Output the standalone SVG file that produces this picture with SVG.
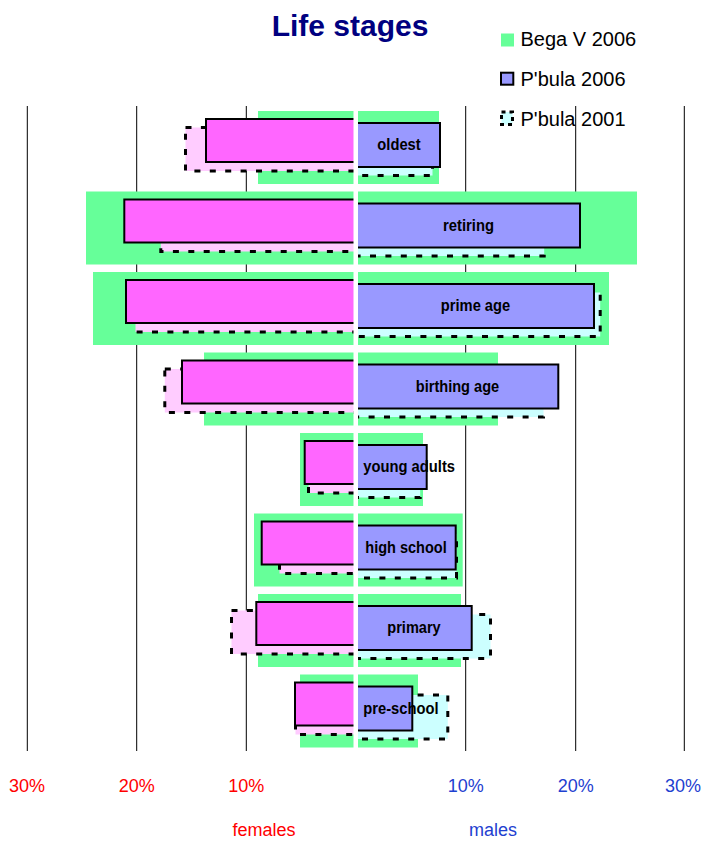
<svg xmlns="http://www.w3.org/2000/svg" width="701" height="841" viewBox="0 0 701 841">
<style>
text{font-family:"Liberation Sans",Arial,sans-serif}
.grid{stroke:#000;stroke-width:1}
.bega{fill:#66FF99}
.f01{fill:#FFCCFF;stroke:#000;stroke-width:3;stroke-dasharray:6 9.4}
.m01{fill:#CCFFFF;stroke:#000;stroke-width:3;stroke-dasharray:6 9.4}
.f06{fill:#FF66FF;stroke:#000;stroke-width:2}
.m06{fill:#9999FF;stroke:#000;stroke-width:2}
.lbl{font-size:17px;font-weight:bold;fill:#000;text-anchor:middle}
.lbls{font-size:17px;font-weight:bold;fill:#000;text-anchor:start}
.tf{font-size:18px;fill:#FF0000;text-anchor:middle}
.tm{font-size:18px;fill:#1E40D0;text-anchor:middle}
.leg{font-size:20px;fill:#000}
</style>
<rect width="701" height="841" fill="#fff"/>
<text x="350" y="36" style="font-size:30px;font-weight:bold;fill:#000080" text-anchor="middle">Life stages</text>
<g id="legend">
<rect class="bega" x="501" y="33.5" width="13" height="13"/>
<text class="leg" x="520.5" y="46">Bega V 2006</text>
<rect class="m06" x="501" y="72.7" width="12.3" height="12"/>
<text class="leg" x="520.5" y="85.5">P'bula 2006</text>
<rect x="501.5" y="112" width="11" height="12.5" fill="#CCFFFF" stroke="#000" stroke-width="3" stroke-dasharray="4 4"/>
<text class="leg" x="520.5" y="126">P'bula 2001</text>
</g>
<g id="gridlines">
<line class="grid" x1="27.3" y1="106" x2="27.3" y2="751"/>
<line class="grid" x1="136.7" y1="106" x2="136.7" y2="751"/>
<line class="grid" x1="246.3" y1="106" x2="246.3" y2="751"/>
<line class="grid" x1="465.7" y1="106" x2="465.7" y2="751"/>
<line class="grid" x1="575.7" y1="106" x2="575.7" y2="751"/>
<line class="grid" x1="684.3" y1="106" x2="684.3" y2="751"/>
</g>
<g id="row-oldest">
<rect class="bega" x="258" y="111" width="181" height="73"/>
<rect class="f01" x="185.5" y="127.5" width="170.5" height="43.5"/>
<rect class="m01" x="356" y="131.5" width="76.5" height="44"/>
<rect class="f06" x="206" y="119" width="150" height="43"/>
<rect class="m06" x="356" y="123" width="84" height="44"/>
</g>
<g id="row-retiring">
<rect class="bega" x="86" y="191.5" width="551" height="73"/>
<rect class="f01" x="160.8" y="208" width="195.2" height="43.5"/>
<rect class="m01" x="356" y="212" width="188.2" height="44"/>
<rect class="f06" x="124.3" y="199.5" width="231.7" height="43"/>
<rect class="m06" x="356" y="203.5" width="224" height="44"/>
</g>
<g id="row-prime-age">
<rect class="bega" x="93" y="272" width="516" height="73"/>
<rect class="f01" x="135.5" y="288.5" width="220.5" height="43.5"/>
<rect class="m01" x="356" y="292.5" width="244.2" height="44"/>
<rect class="f06" x="126" y="280" width="230" height="43"/>
<rect class="m06" x="356" y="284" width="238" height="44"/>
</g>
<g id="row-birthing-age">
<rect class="bega" x="204" y="352.5" width="294" height="73"/>
<rect class="f01" x="164.8" y="369" width="191.2" height="43.5"/>
<rect class="m01" x="356" y="373" width="187.5" height="44"/>
<rect class="f06" x="182" y="360.5" width="174" height="43"/>
<rect class="m06" x="356" y="364.5" width="202.3" height="44"/>
</g>
<g id="row-young-adults">
<rect class="bega" x="300" y="433" width="123" height="73"/>
<rect class="f01" x="308.5" y="449.5" width="47.5" height="43.5"/>
<rect class="m01" x="356" y="453.5" width="64.2" height="44"/>
<rect class="f06" x="304.7" y="441" width="51.3" height="43"/>
<rect class="m06" x="356" y="445" width="70.7" height="44"/>
</g>
<g id="row-high-school">
<rect class="bega" x="254" y="513.5" width="208.7" height="73"/>
<rect class="f01" x="279.5" y="530" width="76.5" height="43.5"/>
<rect class="m01" x="356" y="534" width="100.5" height="44"/>
<rect class="f06" x="261.7" y="521.5" width="94.3" height="43"/>
<rect class="m06" x="356" y="525.5" width="99.7" height="44"/>
</g>
<g id="row-primary">
<rect class="bega" x="258" y="594" width="203" height="73"/>
<rect class="f01" x="231.5" y="610.5" width="124.5" height="43.5"/>
<rect class="m01" x="356" y="614.5" width="134.5" height="44"/>
<rect class="f06" x="256.3" y="602" width="99.7" height="43"/>
<rect class="m06" x="356" y="606" width="115.7" height="44"/>
</g>
<g id="row-pre-school">
<rect class="bega" x="300" y="674.5" width="118" height="73"/>
<rect class="f01" x="295.5" y="691" width="60.5" height="43.5"/>
<rect class="m01" x="356" y="695" width="91.8" height="44"/>
<rect class="f06" x="295" y="682.5" width="61" height="43"/>
<rect class="m06" x="356" y="686.5" width="56.3" height="44"/>
</g>
<rect id="centre-gap" x="353.5" y="100" width="4.5" height="655" fill="#fff"/>
<g id="labels">
<text class="lbl" x="399" y="150" textLength="43.3" lengthAdjust="spacingAndGlyphs">oldest</text>
<text class="lbl" x="468.5" y="230.5" textLength="51" lengthAdjust="spacingAndGlyphs">retiring</text>
<text class="lbl" x="475.5" y="311" textLength="69.3" lengthAdjust="spacingAndGlyphs">prime age</text>
<text class="lbl" x="457.5" y="391.5" textLength="83.3" lengthAdjust="spacingAndGlyphs">birthing age</text>
<text class="lbls" x="363.3" y="472" textLength="91.7" lengthAdjust="spacingAndGlyphs">young adults</text>
<text class="lbl" x="406" y="552.5" textLength="81.4" lengthAdjust="spacingAndGlyphs">high school</text>
<text class="lbl" x="414" y="633" textLength="53.4" lengthAdjust="spacingAndGlyphs">primary</text>
<text class="lbls" x="363.3" y="713.5" textLength="75.3" lengthAdjust="spacingAndGlyphs">pre-school</text>
</g>
<g id="axis">
<text class="tf" x="27" y="792">30%</text>
<text class="tf" x="136.7" y="792">20%</text>
<text class="tf" x="246.3" y="792">10%</text>
<text class="tm" x="465.7" y="792">10%</text>
<text class="tm" x="575.7" y="792">20%</text>
<text class="tm" x="683" y="792">30%</text>
<text class="tf" x="264" y="836">females</text>
<text class="tm" x="493" y="836">males</text>
</g>
</svg>
